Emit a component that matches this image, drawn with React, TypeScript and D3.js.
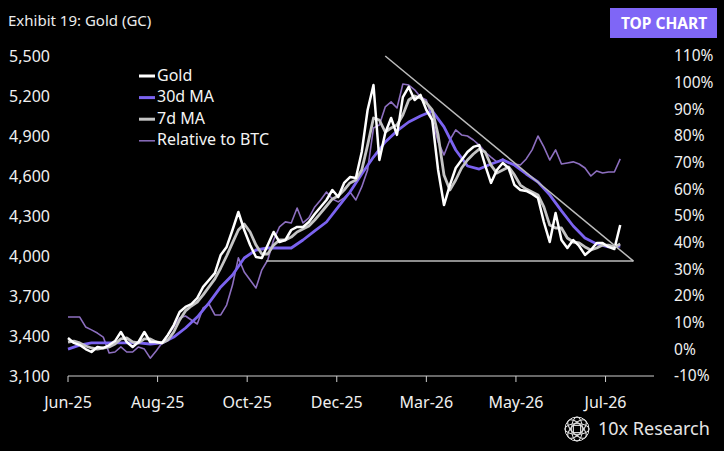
import * as d3 from "d3";

// daily closes sampled every 4 days from 30 Jun 2025
const START = "2025-06-30";
const STEP_DAYS = 4;
const MA30_STEP_DAYS = 8;

const gold = [
  3385, 3348, 3332, 3302, 3280, 3318, 3310, 3332, 3362, 3430, 3355, 3318, 3355, 3430, 3355, 3355,
  3348, 3408, 3482, 3580, 3618, 3640, 3685, 3768, 3820, 3872, 4008, 4068, 4195, 4330, 4195, 4082,
  3992, 3985, 4082, 4180, 4105, 4120, 4195, 4218, 4218, 4255, 4315, 4368, 4420, 4495, 4442, 4548,
  4592, 4585, 4780, 5095, 5282, 4720, 4922, 5035, 4908, 5192, 5268, 5170, 5208, 5095, 5020, 4645,
  4382, 4532, 4660, 4720, 4780, 4818, 4832, 4682, 4548, 4645, 4698, 4660, 4532, 4495, 4488, 4465,
  4435, 4255, 4105, 4322, 4120, 4060, 4120, 4075, 4008, 4045, 4098, 4098, 4068, 4052, 4232,
];

const ma7 = [
  3355, 3362, 3348, 3325, 3310, 3302, 3310, 3318, 3340, 3378, 3385, 3355, 3348, 3378, 3378, 3355,
  3348, 3370, 3430, 3520, 3588, 3625, 3655, 3708, 3768, 3828, 3910, 4000, 4098, 4195, 4240, 4180,
  4082, 4015, 4015, 4082, 4120, 4120, 4142, 4180, 4202, 4225, 4270, 4322, 4375, 4428, 4450, 4495,
  4548, 4570, 4645, 4832, 5035, 5020, 4930, 4960, 4982, 5058, 5170, 5200, 5185, 5148, 5095, 4908,
  4608, 4495, 4570, 4660, 4720, 4765, 4802, 4780, 4682, 4622, 4645, 4668, 4608, 4532, 4502, 4480,
  4458, 4368, 4232, 4210, 4210, 4135, 4105, 4098, 4068, 4045, 4060, 4082, 4082, 4068, 4090,
];

const ma30 = [
  3302, 3332, 3348, 3348, 3348, 3348, 3348, 3340, 3348, 3392, 3460, 3542, 3648, 3768, 3858, 3985,
  4045, 4060, 4060, 4060, 4120, 4188, 4255, 4368, 4480, 4615, 4742, 4855, 4938, 5005, 5050, 5088,
  4968, 4795, 4675, 4652, 4690, 4720, 4682, 4615, 4555, 4458, 4338, 4225, 4135, 4090, 4068, 4075,
];

// gold relative to BTC, % (right axis)
const relBtc = [
  12.1, 12.1, 12.1, 8.4, 7.3, 6.1, 4.6, -1.4, -1.0, 0.9, -1.0, -1.0, 0.9, 0.1, -3.3, -0.6,
  2.4, 5.4, 8.4, 11.8, 12.5, 11.0, 9.5, 15.5, 17.0, 12.9, 12.9, 16.6, 24.1, 34.3, 29.0, 26.0,
  23.0, 29.8, 33.5, 41.0, 45.9, 47.8, 47.4, 53.0, 47.4, 49.3, 53.4, 56.0, 59.0, 56.4, 55.3, 56.8,
  59.0, 56.0, 60.9, 67.3, 83.0, 84.1, 90.9, 92.8, 90.5, 99.5, 99.1, 97.3, 94.6, 93.5, 86.0, 77.8,
  72.9, 78.5, 82.3, 80.4, 80.0, 78.5, 76.6, 74.0, 72.1, 70.3, 71.4, 69.9, 69.5, 69.1, 71.4, 74.8,
  80.0, 75.9, 71.0, 74.8, 69.5, 69.9, 70.3, 69.5, 68.0, 65.0, 66.9, 66.1, 66.5, 66.5, 71.4,
];

const leftTicks = [3100, 3400, 3700, 4000, 4300, 4600, 4900, 5200, 5500];
const rightTicks = [-10, 0, 10, 20, 30, 40, 50, 60, 70, 80, 90, 100, 110];
const xTicks = ["2025-06-30", "2025-08-30", "2025-10-30", "2025-12-30", "2026-03-01", "2026-05-01", "2026-07-01"];
const xDomain = ["2025-06-30", "2026-08-03"];

// hand-drawn triangle
const supportLine = [
  { date: "2025-11-12", value: 3962 },
  { date: "2026-07-20", value: 3962 },
];
const resistanceLine = [
  { date: "2026-02-01", value: 5500 },
  { date: "2026-07-20", value: 3962 },
];

const legendItems = [
  { label: "Gold", color: "#ffffff", width: 3 },
  { label: "30d MA", color: "#7b63f0", width: 3 },
  { label: "7d MA", color: "#c4c4c4", width: 3 },
  { label: "Relative to BTC", color: "#8d6fc0", width: 1.5 },
];

const W = 724;
const H = 451;
const FONT = "'Noto Sans', sans-serif";
const parse = d3.timeParse("%Y-%m-%d");

function LogoMark({ cx, cy, r }: { cx: number; cy: number; r: number }) {
  return (
    <g fill="none" stroke="#e6e6e6" strokeWidth={1}>
      <circle cx={cx} cy={cy} r={r} />
      <ellipse cx={cx} cy={cy} rx={r * 0.45} ry={r} />
      <ellipse cx={cx} cy={cy} rx={r} ry={r * 0.45} />
      <ellipse cx={cx} cy={cy} rx={r * 0.45} ry={r} transform={`rotate(45 ${cx} ${cy})`} />
      <ellipse cx={cx} cy={cy} rx={r * 0.45} ry={r} transform={`rotate(-45 ${cx} ${cy})`} />
      <rect x={cx - r * 0.3} y={cy - r * 0.3} width={r * 0.6} height={r * 0.6} />
    </g>
  );
}

export default function App() {
  const margin = { left: 68, right: 70, top: 56, bottom: 75 };
  const x = d3
    .scaleTime()
    .domain(xDomain.map((d) => parse(d)!))
    .range([margin.left, W - margin.right]);
  const yL = d3.scaleLinear().domain([3100, 5500]).range([H - margin.bottom, margin.top]);
  const yR = d3.scaleLinear().domain([-10, 110]).range([H - margin.bottom, margin.top]);

  const start = parse(START)!;
  const dateAt = (i: number, step: number) => d3.timeDay.offset(start, i * step);

  const lineL = d3
    .line<number>()
    .x((_, i) => x(dateAt(i, STEP_DAYS)))
    .y((d) => yL(d));
  const lineMa30 = d3
    .line<number>()
    .x((_, i) => x(dateAt(i, MA30_STEP_DAYS)))
    .y((d) => yL(d));
  const lineR = d3
    .line<number>()
    .x((_, i) => x(dateAt(i, STEP_DAYS)))
    .y((d) => yR(d));
  const trend = d3
    .line<{ date: string; value: number }>()
    .x((d) => x(parse(d.date)!))
    .y((d) => yL(d.value));

  const fmtX = d3.timeFormat("%b-%y");
  const fmtL = d3.format(",");
  const axisY = H - margin.bottom;

  return (
    <svg
      width={W}
      height={H}
      style={{ position: "absolute", left: 0, top: 0, display: "block", background: "#000" }}
      fontFamily={FONT}
    >
      <rect width={W} height={H} fill="#000" />

      <text x={8} y={26} fill="#ececec" fontSize={15}>
        Exhibit 19: Gold (GC)
      </text>

      <rect x={610} y={8} width={107} height={30} fill="#7f66f6" />
      <text x={664} y={28.5} fill="#fff" fontSize={15.5} fontWeight={700} textAnchor="middle">
        TOP CHART
      </text>

      {/* left axis labels */}
      {leftTicks.map((t) => (
        <text key={t} x={50} y={yL(t)} dy="0.35em" fill="#f0f0f0" fontSize={16} textAnchor="end">
          {fmtL(t)}
        </text>
      ))}

      {/* right axis labels */}
      {rightTicks.map((t) => (
        <text key={t} x={674} y={yR(t)} dy="0.35em" fill="#f0f0f0" fontSize={15.5}>
          {t}%
        </text>
      ))}

      {/* x axis */}
      <line x1={margin.left} x2={W - margin.right} y1={axisY} y2={axisY} stroke="#cfcfcf" strokeWidth={1} />
      {xTicks.map((d) => {
        const px = x(parse(d)!);
        return (
          <g key={d}>
            <line x1={px} x2={px} y1={axisY} y2={axisY + 6} stroke="#cfcfcf" strokeWidth={1} />
            <text x={px} y={axisY + 26} dy="0.35em" fill="#f0f0f0" fontSize={16} textAnchor="middle">
              {fmtX(parse(d)!)}
            </text>
          </g>
        );
      })}

      {/* series */}
      <path d={lineR(relBtc)!} fill="none" stroke="#8d6fc0" strokeWidth={1.6} strokeLinejoin="round" />
      <path d={lineMa30(ma30)!} fill="none" stroke="#7b63f0" strokeWidth={2.8} strokeLinejoin="round" />
      <path d={lineL(ma7)!} fill="none" stroke="#c4c4c4" strokeWidth={2.8} strokeLinejoin="round" />
      <path d={lineL(gold)!} fill="none" stroke="#ffffff" strokeWidth={2.5} strokeLinejoin="round" />

      {/* triangle */}
      <path d={trend(supportLine)!} fill="none" stroke="#bdbdbd" strokeWidth={1.5} />
      <path d={trend(resistanceLine)!} fill="none" stroke="#bdbdbd" strokeWidth={1.5} />

      {/* legend */}
      {legendItems.map((it, i) => {
        const ly = 75 + i * 21.6;
        return (
          <g key={it.label}>
            <line x1={139} x2={155} y1={ly + 1} y2={ly + 1} stroke={it.color} strokeWidth={it.width} />
            <text x={157} y={ly} dy="0.35em" fill="#f4f4f4" fontSize={16}>
              {it.label}
            </text>
          </g>
        );
      })}

      {/* brand */}
      <LogoMark cx={577} cy={429} r={12} />
      <text x={598} y={429} dy="0.35em" fill="#e6e6e6" fontSize={18}>
        10x Research
      </text>
    </svg>
  );
}
